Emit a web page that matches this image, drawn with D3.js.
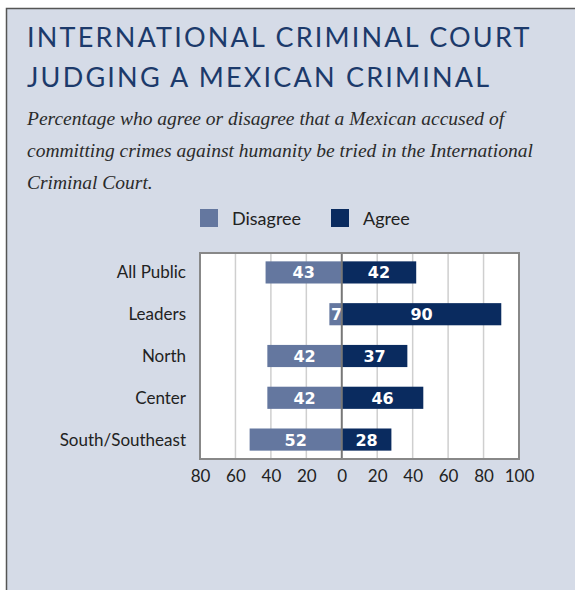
<!DOCTYPE html>
<html>
<head>
<meta charset="utf-8">
<script src="https://cdn.jsdelivr.net/npm/d3@7"></script>
<style>
  body { margin: 0; background: #fff; }
  svg { display: block; }
</style>
</head>
<body>
<div id="chart"></div>
<script>
// data
var categories = ["All Public", "Leaders", "North", "Center", "South/Southeast"];
var disagree = [43, 7, 42, 42, 52];
var agree = [42, 90, 37, 46, 28];
var ticks = [-80, -60, -40, -20, 0, 20, 40, 60, 80, 100];
var legendLabels = ["Disagree", "Agree"];

var W = 575, H = 590;
var colDis = "#64779f", colAgr = "#0a2b5f";

var svg = d3.select("#chart").append("svg")
	.attr("width", W)
	.attr("height", H);

// panel
svg.append("rect")
	.attr("x", 6).attr("y", 8)
	.attr("width", W - 6).attr("height", H - 8)
	.attr("fill", "#d5dbe7");
svg.append("path")
	.attr("d", "M6.5," + H + "V8.5H" + W)
	.attr("fill", "none")
	.attr("stroke", "#555")
	.attr("stroke-width", 1.5);

// title
var title = ["INTERNATIONAL CRIMINAL COURT", "JUDGING A MEXICAN CRIMINAL"];
svg.selectAll("text.title")
	.data(title)
	.enter().append("text")
	.attr("class", "title")
	.attr("x", 27)
	.attr("y", function(d, i){ return 47 + i * 40; })
	.attr("font-family", "Lato, 'Open Sans', sans-serif")
	.attr("font-size", "27px")
	.attr("letter-spacing", "2.2px")
	.attr("fill", "#1c3a6b")
	.text(function(d){ return d; });

var sub = ["Percentage who agree or disagree that a Mexican accused of",
	"committing crimes against humanity be tried in the International",
	"Criminal Court."];
svg.selectAll("text.sub")
	.data(sub)
	.enter().append("text")
	.attr("class", "sub")
	.attr("x", 27)
	.attr("y", function(d, i){ return 125 + i * 32; })
	.attr("font-family", "'Liberation Serif', serif")
	.attr("font-style", "italic")
	.attr("font-size", "19.5px")
	.attr("fill", "#2b2b2b")
	.text(function(d){ return d; });

// legend
var legend = svg.append("g").attr("transform", "translate(200,209)");
legend.selectAll("rect")
	.data(legendLabels)
	.enter().append("rect")
	.attr("x", function(d, i){ return i * 131; })
	.attr("y", 0)
	.attr("width", 18).attr("height", 18)
	.attr("fill", function(d, i){ return i ? colAgr : colDis; });
legend.selectAll("text")
	.data(legendLabels)
	.enter().append("text")
	.attr("x", function(d, i){ return i * 131 + 32; })
	.attr("y", 16)
	.attr("font-family", "Lato, sans-serif")
	.attr("font-size", "18px")
	.attr("fill", "#222")
	.text(function(d){ return d; });

// plot
var x = d3.scaleLinear().domain([-80, 100]).range([200, 519]);
var y = d3.scaleBand().domain(categories).range([253, 459]).paddingInner(0.47).paddingOuter(0.2);

svg.append("rect")
	.attr("x", x(-80)).attr("y", 253)
	.attr("width", x(100) - x(-80)).attr("height", 206)
	.attr("fill", "#fff");

svg.selectAll("line.grid")
	.data(ticks.filter(function(t){ return t != -80 && t != 100 && t != 0; }))
	.enter().append("line")
	.attr("class", "grid")
	.attr("x1", function(d){ return x(d); })
	.attr("x2", function(d){ return x(d); })
	.attr("y1", 253).attr("y2", 459)
	.attr("stroke", "#cfcfcf")
	.attr("stroke-width", 1.5);

var rows = categories.map(function(c, i){ return {cat: c, dis: disagree[i], agr: agree[i]}; });

var g = svg.selectAll("g.row").data(rows).enter().append("g").attr("class", "row");
g.append("rect")
	.attr("x", function(d){ return x(-d.dis); })
	.attr("y", function(d){ return y(d.cat); })
	.attr("width", function(d){ return x(0) - x(-d.dis); })
	.attr("height", y.bandwidth())
	.attr("fill", colDis);
g.append("rect")
	.attr("x", x(0))
	.attr("y", function(d){ return y(d.cat); })
	.attr("width", function(d){ return x(d.agr) - x(0); })
	.attr("height", y.bandwidth())
	.attr("fill", colAgr);

g.append("text")
	.attr("x", function(d){ return d.dis < 10 ? x(-d.dis / 2) + 1 : x(-d.dis / 2); })
	.attr("y", function(d){ return y(d.cat) + y.bandwidth() / 2 + 6; })
	.attr("text-anchor", "middle")
	.attr("font-family", "'DejaVu Sans', sans-serif")
	.attr("font-weight", "bold")
	.attr("font-size", "16px")
	.attr("fill", "#fff")
	.text(function(d){ return d.dis; });
g.append("text")
	.attr("x", function(d){ return x(d.agr / 2); })
	.attr("y", function(d){ return y(d.cat) + y.bandwidth() / 2 + 6; })
	.attr("text-anchor", "middle")
	.attr("font-family", "'DejaVu Sans', sans-serif")
	.attr("font-weight", "bold")
	.attr("font-size", "16px")
	.attr("fill", "#fff")
	.text(function(d){ return d.agr; });

// category labels
g.append("text")
	.attr("x", 186)
	.attr("y", function(d){ return y(d.cat) + y.bandwidth() / 2 + 6; })
	.attr("text-anchor", "end")
	.attr("font-family", "Lato, sans-serif")
	.attr("font-size", "17px")
	.attr("fill", "#222")
	.text(function(d){ return d.cat; });

// zero line and frame
svg.append("line")
	.attr("x1", x(0)).attr("x2", x(0))
	.attr("y1", 253).attr("y2", 459)
	.attr("stroke", "#777")
	.attr("stroke-width", 2);
svg.append("rect")
	.attr("x", x(-80)).attr("y", 253)
	.attr("width", x(100) - x(-80)).attr("height", 206)
	.attr("fill", "none")
	.attr("stroke", "#888")
	.attr("stroke-width", 2);

// axis labels
var xAxis = d3.axisBottom(x).tickValues(ticks).tickSize(0).tickPadding(10)
	.tickFormat(function(d){ return Math.abs(d); });
var ax = svg.append("g").attr("transform", "translate(0,460)").call(xAxis);
ax.select(".domain").remove();
ax.selectAll("text")
	.attr("font-family", "Lato, sans-serif")
	.attr("font-size", "17px")
	.attr("fill", "#222");
</script>
</body>
</html>
